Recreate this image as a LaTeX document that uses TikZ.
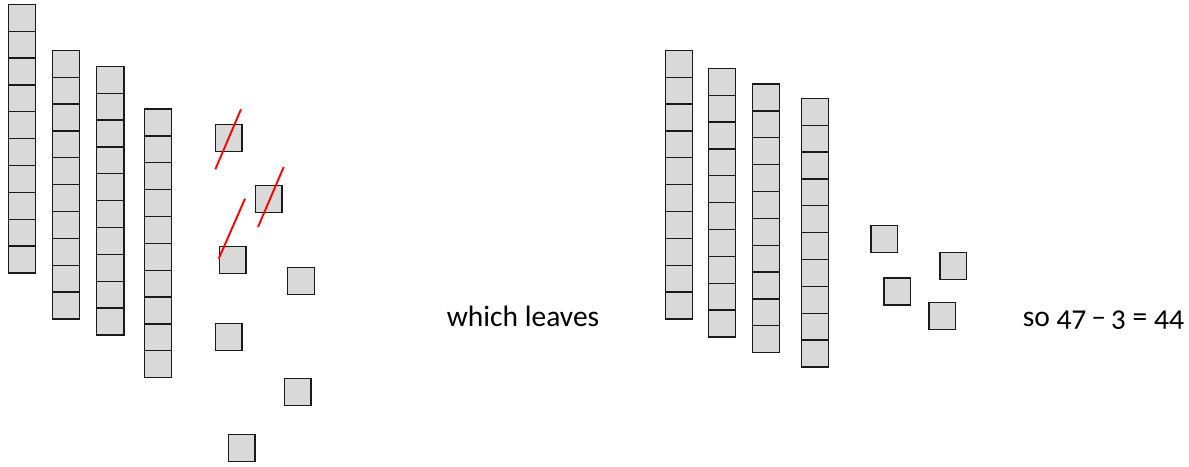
\documentclass[tikz,border=0pt]{standalone}
\usepackage{fontspec}
\setmainfont{Carlito}[Numbers=OldStyle]
\definecolor{cellgray}{HTML}{D9D9D9}
\definecolor{edgecol}{HTML}{1A1A1A}
\tikzset{
  cell/.style={draw=edgecol, fill=cellgray, line width=1.3pt, minimum width=27.4pt, minimum height=26.87pt, inner sep=0pt, outer sep=0pt},
  unitsq/.style={cell, minimum width=26.6pt, minimum height=27pt},
  strike/.style={draw=red, line width=1.9pt},
  lbl/.style={font=\fontsize{29.5}{34}\selectfont, inner sep=0pt, anchor=base west}
}
\begin{document}
\begin{tikzpicture}[x=1pt,y=-1pt]
\useasboundingbox (0,0) rectangle (1189,466);
% tens rods
\foreach \n/\x/\t in {a/8.3/4.3, b/52.3/50.3, c/96.5/66.3, d/144.3/109, e/665.3/50.3, f/708.3/68.3, g/752.3/84, h/801.3/98.3}{
  \foreach \i in {0,...,9}{
    \node[cell] (\n\i) at ({\x+13.7},{\t+(\i+0.5)*26.87}) {};
  }
}
% ones
\foreach \n/\x/\t in {u1/215.3/124.3, u2/255.3/185.3, u3/219.3/246.3, u4/287.7/267.3, u5/215.3/323.3, u6/284.3/378.3, u7/228.3/434.3,
  v1/871/225.3, v2/940/252.3, v3/884/278, v4/929/302.3}{
  \node[unitsq] (\n) at ({\x+13.3},{\t+13.5}) {};
}
% strike-through marks
\coordinate (s1a) at (241,109.3);
\coordinate (s1b) at (215.3,169.3);
\coordinate (s2a) at (283.7,167);
\coordinate (s2b) at (258,227);
\coordinate (s3a) at (245,198.7);
\coordinate (s3b) at (218.7,258.7);
\draw[strike] (s1a) -- (s1b);
\draw[strike] (s2a) -- (s2b);
\draw[strike] (s3a) -- (s3b);
% texts
\node[lbl] (t1) at (446.7,326) {which leaves};
\node[lbl] (t2) at (1022.7,326) {so 47\,–\,3 = 44};
\end{tikzpicture}
\end{document}
